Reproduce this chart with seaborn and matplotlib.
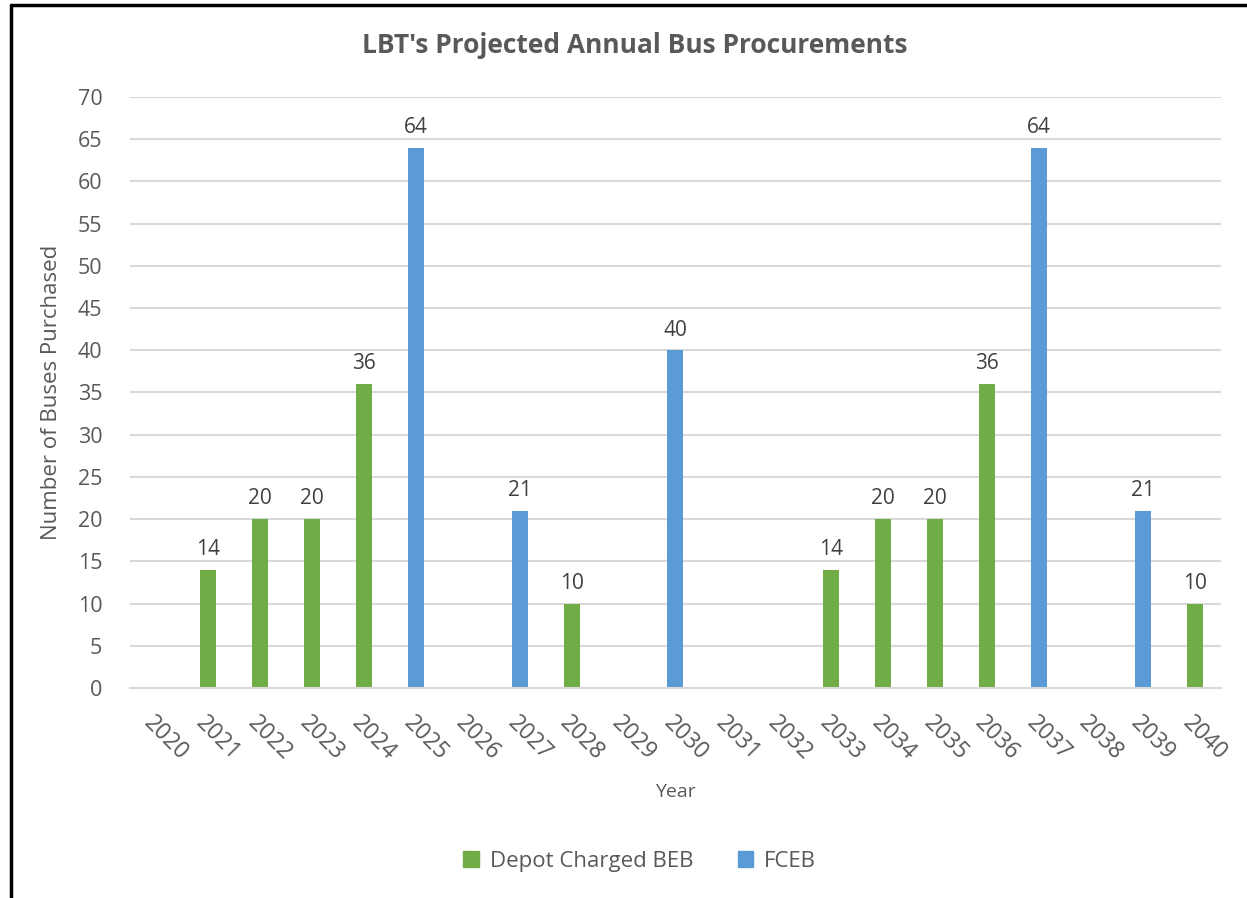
import pandas as pd
import matplotlib.pyplot as plt
import seaborn as sns
from matplotlib.lines import Line2D

# datos
years = [str(y) for y in range(2020, 2041)]
beb = [0, 14, 20, 20, 36, 0, 0, 0, 10, 0, 0, 0, 0, 14, 20, 20, 36, 0, 0, 0, 10]
fceb = [0, 0, 0, 0, 0, 64, 0, 21, 0, 0, 40, 0, 0, 0, 0, 0, 0, 64, 0, 21, 0]
series = ['Depot Charged BEB', 'FCEB']
colores = ['#70AD47', '#5B9BD5']

gris = '#595959'

df = pd.DataFrame({'year': years * 2,
                   'value': beb + fceb,
                   'serie': [series[0]] * len(years) + [series[1]] * len(years)})

sns.set_style('white')
plt.rcParams['font.family'] = ['Open Sans', 'DejaVu Sans']

fig = plt.figure(figsize=(12.47, 8.98), dpi=100)
ax = fig.add_axes([0.1043, 0.2339, 0.979 - 0.1043, 0.892 - 0.2339])

sns.barplot(data=df, x='year', y='value', hue='serie', order=years,
            hue_order=series, palette=colores, dodge=False, width=0.31,
            saturation=1, ax=ax, legend=False, edgecolor='none')

# etiquetas de datos (solo barras con valor)
for cont in ax.containers:
    labels = [f'{int(v)}' if v > 0 else '' for v in cont.datavalues]
    ax.bar_label(cont, labels=labels, padding=7, fontsize=15, color='#404040')

ax.set_ylim(0, 70)
ax.set_yticks(range(0, 71, 5))
ax.set_xlim(-0.5, len(years) - 0.5)
ax.yaxis.grid(True, color='#D9D9D9', linewidth=1.5)
ax.set_axisbelow(True)
for s in ['top', 'right', 'left']:
    ax.spines[s].set_visible(False)
ax.spines['bottom'].set_color('#D9D9D9')
ax.spines['bottom'].set_linewidth(1.5)

ax.tick_params(axis='y', length=0, pad=20, labelsize=15.5, labelcolor=gris)
ax.tick_params(axis='x', length=0, pad=17, labelsize=16.5, labelcolor=gris)
plt.setp(ax.get_xticklabels(), rotation=-45, ha='left', rotation_mode='anchor')

ax.set_xlabel('Year', fontsize=14, color=gris)
ax.set_ylabel('Number of Buses Purchased', fontsize=16, color=gris)
ax.yaxis.set_label_coords(-0.062, 0.5)
ax.xaxis.set_label_coords(0.5, -0.16)

fig.text(0.509, 0.949, "LBT's Projected Annual Bus Procurements",
         ha='center', va='center', fontsize=19, fontweight='bold', color=gris)

handles = [plt.Rectangle((0, 0), 1, 1, color=c) for c in colores]
fig.legend(handles, series, loc='center', bbox_to_anchor=(0.513, 0.041),
           ncol=2, frameon=False, fontsize=16, labelcolor=gris,
           handlelength=0.7, handleheight=0.7, columnspacing=2.0,
           handletextpad=0.5)

# borde del recuadro (solo arriba e izquierda)
fig.add_artist(Line2D([0.0088, 0.0088], [0, 0.9945], color='black', lw=2.5,
                      transform=fig.transFigure))
fig.add_artist(Line2D([0.0088, 1], [0.9945, 0.9945], color='black', lw=2.5,
                      transform=fig.transFigure))

plt.savefig('out.png', dpi=100)
plt.close()
